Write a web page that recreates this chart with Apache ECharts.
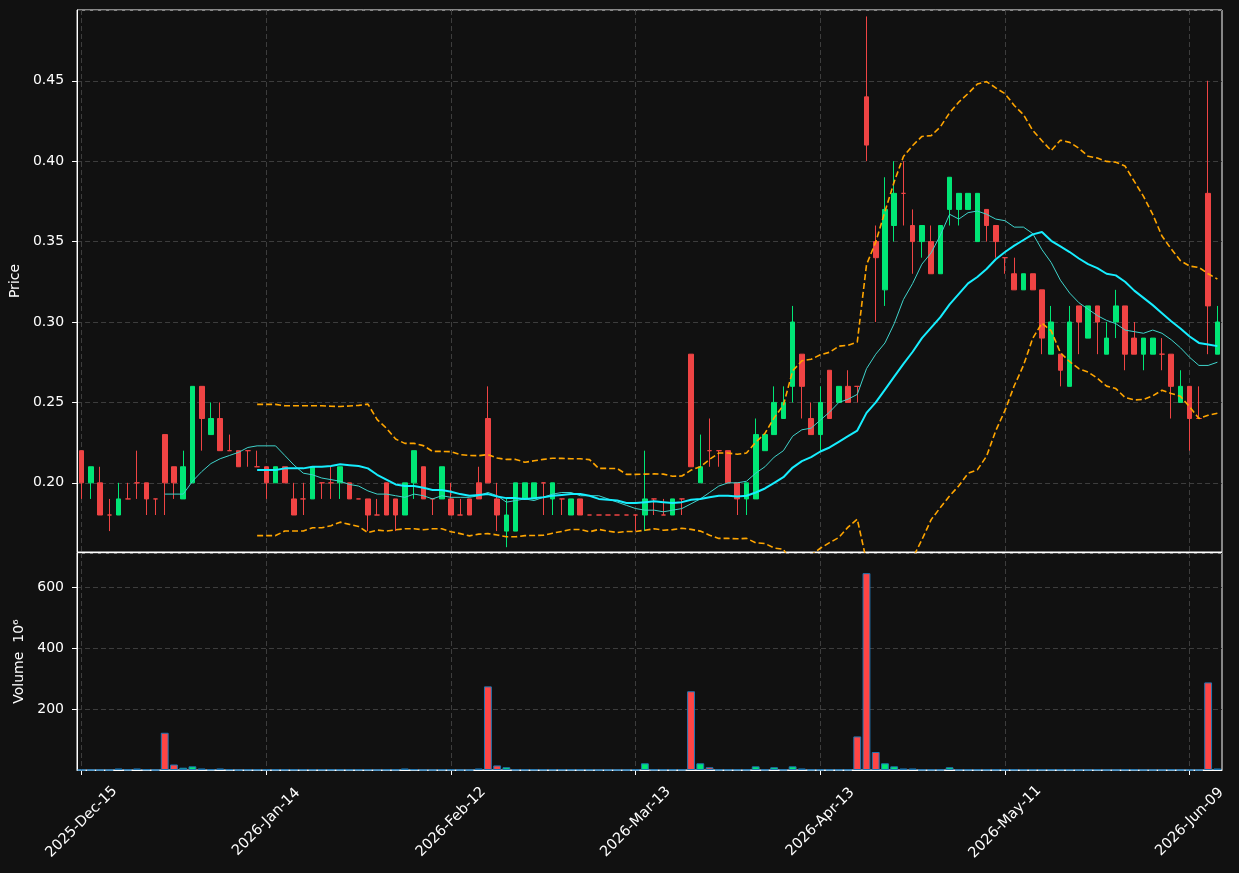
<!DOCTYPE html>
<html>
<head>
<meta charset="utf-8">
<title>Price / Volume</title>
<script src="https://cdn.jsdelivr.net/npm/echarts@6/dist/echarts.min.js"></script>
<style>
  html, body { margin: 0; padding: 0; background: #111111; }
  #chart { width: 1239px; height: 873px; }
</style>
</head>
<body>
<div id="chart"></div>
<script>
// trading calendar (US sessions)
const startDate = '2025-12-15'
const dayCount = 124
const holidays = ['2025-12-25', '2026-01-01', '2026-01-19', '2026-02-16', '2026-04-03', '2026-05-25']
const labelEvery = 20

const opens = [
  0.22, 0.20, 0.20, 0.18, 0.18, 0.19, 0.20, 0.20, 0.19, 0.23,
  0.21, 0.19, 0.20, 0.26, 0.23, 0.24, 0.22, 0.22, 0.22, 0.21,
  0.21, 0.20, 0.21, 0.19, 0.19, 0.19, 0.20, 0.20, 0.20, 0.20,
  0.19, 0.19, 0.18, 0.20, 0.19, 0.18, 0.20, 0.21, 0.19, 0.19,
  0.19, 0.18, 0.19, 0.20, 0.24, 0.19, 0.17, 0.17, 0.19, 0.19,
  0.20, 0.19, 0.19, 0.18, 0.19, 0.18, 0.18, 0.18, 0.18, 0.18,
  0.18, 0.18, 0.19, 0.18, 0.18, 0.19, 0.28, 0.20, 0.22, 0.22,
  0.22, 0.20, 0.19, 0.19, 0.22, 0.23, 0.24, 0.26, 0.28, 0.24,
  0.23, 0.27, 0.25, 0.26, 0.26, 0.44, 0.35, 0.32, 0.36, 0.38,
  0.36, 0.35, 0.35, 0.33, 0.37, 0.37, 0.37, 0.35, 0.37, 0.36,
  0.34, 0.33, 0.32, 0.33, 0.32, 0.28, 0.28, 0.26, 0.31, 0.29,
  0.31, 0.28, 0.30, 0.31, 0.29, 0.28, 0.28, 0.28, 0.28, 0.25,
  0.26, 0.24, 0.38, 0.28
]
const highs = [
  0.22, 0.21, 0.21, 0.19, 0.20, 0.20, 0.22, 0.20, 0.19, 0.23,
  0.21, 0.22, 0.26, 0.26, 0.25, 0.25, 0.23, 0.22, 0.22, 0.22,
  0.21, 0.21, 0.21, 0.20, 0.20, 0.21, 0.20, 0.21, 0.21, 0.20,
  0.19, 0.19, 0.19, 0.20, 0.19, 0.20, 0.22, 0.21, 0.19, 0.21,
  0.20, 0.19, 0.19, 0.21, 0.26, 0.20, 0.19, 0.20, 0.20, 0.20,
  0.20, 0.20, 0.19, 0.19, 0.19, 0.18, 0.18, 0.18, 0.18, 0.18,
  0.18, 0.22, 0.19, 0.19, 0.19, 0.19, 0.28, 0.23, 0.24, 0.22,
  0.22, 0.20, 0.20, 0.24, 0.23, 0.26, 0.26, 0.31, 0.28, 0.25,
  0.26, 0.27, 0.26, 0.27, 0.26, 0.49, 0.36, 0.39, 0.40, 0.40,
  0.37, 0.36, 0.36, 0.36, 0.39, 0.38, 0.38, 0.38, 0.37, 0.36,
  0.34, 0.34, 0.33, 0.33, 0.32, 0.31, 0.28, 0.31, 0.31, 0.31,
  0.31, 0.30, 0.32, 0.31, 0.30, 0.29, 0.29, 0.29, 0.28, 0.27,
  0.26, 0.26, 0.45, 0.31
]
const lows = [
  0.19, 0.19, 0.18, 0.17, 0.18, 0.19, 0.19, 0.18, 0.18, 0.18,
  0.19, 0.19, 0.20, 0.22, 0.23, 0.22, 0.22, 0.21, 0.21, 0.21,
  0.19, 0.20, 0.20, 0.18, 0.18, 0.19, 0.19, 0.19, 0.19, 0.19,
  0.19, 0.17, 0.18, 0.18, 0.17, 0.18, 0.19, 0.19, 0.18, 0.19,
  0.18, 0.18, 0.18, 0.19, 0.20, 0.17, 0.16, 0.17, 0.19, 0.19,
  0.18, 0.18, 0.18, 0.18, 0.18, 0.18, 0.18, 0.18, 0.18, 0.18,
  0.17, 0.17, 0.18, 0.18, 0.18, 0.18, 0.21, 0.20, 0.21, 0.21,
  0.20, 0.18, 0.18, 0.19, 0.22, 0.23, 0.24, 0.25, 0.24, 0.23,
  0.22, 0.24, 0.25, 0.25, 0.25, 0.40, 0.30, 0.31, 0.35, 0.36,
  0.33, 0.34, 0.33, 0.33, 0.36, 0.36, 0.37, 0.35, 0.35, 0.34,
  0.33, 0.32, 0.32, 0.32, 0.28, 0.28, 0.26, 0.26, 0.28, 0.29,
  0.28, 0.28, 0.29, 0.27, 0.28, 0.27, 0.28, 0.27, 0.24, 0.25,
  0.22, 0.24, 0.28, 0.28
]
const closes = [
  0.20, 0.21, 0.18, 0.18, 0.19, 0.19, 0.20, 0.19, 0.19, 0.20,
  0.20, 0.21, 0.26, 0.24, 0.24, 0.22, 0.22, 0.21, 0.22, 0.21,
  0.20, 0.21, 0.20, 0.18, 0.19, 0.21, 0.20, 0.20, 0.21, 0.19,
  0.19, 0.18, 0.18, 0.18, 0.18, 0.20, 0.22, 0.19, 0.19, 0.21,
  0.18, 0.18, 0.18, 0.19, 0.20, 0.18, 0.18, 0.20, 0.20, 0.20,
  0.20, 0.20, 0.19, 0.19, 0.18, 0.18, 0.18, 0.18, 0.18, 0.18,
  0.18, 0.19, 0.19, 0.18, 0.19, 0.19, 0.21, 0.21, 0.22, 0.22,
  0.20, 0.19, 0.20, 0.23, 0.23, 0.25, 0.25, 0.30, 0.26, 0.23,
  0.25, 0.24, 0.26, 0.25, 0.26, 0.41, 0.34, 0.37, 0.38, 0.38,
  0.35, 0.36, 0.33, 0.36, 0.39, 0.38, 0.38, 0.38, 0.36, 0.35,
  0.34, 0.32, 0.33, 0.32, 0.29, 0.30, 0.27, 0.30, 0.30, 0.31,
  0.30, 0.29, 0.31, 0.28, 0.28, 0.29, 0.29, 0.28, 0.26, 0.26,
  0.24, 0.24, 0.31, 0.30
]
// volume in millions
const volumes = [
  0, 0, 0, 0, 5, 1, 5, 2, 0, 122,
  18, 7.5, 12, 5, 2, 5, 2, 0, 1, 1,
  1, 1, 1, 1, 1, 1, 1, 1, 1, 1,
  1, 1, 0, 1, 1, 5, 2, 0, 0, 1,
  1, 0, 0, 5, 274, 15, 9, 1, 1, 1,
  1, 1, 1, 1, 1, 1, 0, 0, 0, 0,
  1, 22, 1, 1, 1, 1, 258, 22, 9, 1,
  1, 1, 1, 12, 1, 9, 1, 12, 5, 1,
  1, 1, 1, 1, 110, 645, 59, 22, 12, 5,
  5, 1, 1, 1, 9, 1, 1, 1, 1, 1,
  1, 1, 1, 1, 1, 1, 1, 1, 0, 0,
  1, 0, 0, 1, 1, 0, 0, 0, 1, 0,
  0, 0, 287, 5
]

const UP = '#00e676'
const DOWN = '#ef4444'
const VOL_DOWN = '#ff4545'
const GRID_LINE = '#3d3d3d'
const FONT = 'DejaVu Sans'

const MONTHS = ['Jan', 'Feb', 'Mar', 'Apr', 'May', 'Jun', 'Jul', 'Aug', 'Sep', 'Oct', 'Nov', 'Dec']

const buildDates = () => {
  const out = []
  const d = new Date(startDate + 'T00:00:00Z')
  while (out.length < dayCount) {
    const iso = d.toISOString().slice(0, 10)
    const wd = d.getUTCDay()
    if (wd !== 0 && wd !== 6 && !holidays.includes(iso)) {
      out.push(d.getUTCFullYear() + '-' + MONTHS[d.getUTCMonth()] + '-' + iso.slice(8, 10))
    }
    d.setUTCDate(d.getUTCDate() + 1)
  }
  return out
}

const rolling = (src, n, fn) => src.map((_, i) => {
  if (i < n - 1) return '-'
  return fn(src.slice(i - n + 1, i + 1))
})
const mean = arr => arr.reduce((a, b) => a + b, 0) / arr.length
const std = arr => {
  const m = mean(arr)
  return Math.sqrt(arr.reduce((a, b) => a + (b - m) * (b - m), 0) / arr.length)
}

const dates = buildDates()
const ma10 = rolling(closes, 10, mean)
const ma20 = rolling(closes, 20, mean)
const bbUpper = rolling(closes, 20, w => mean(w) + 2 * std(w))
const bbLower = rolling(closes, 20, w => mean(w) - 2 * std(w))

const isUp = i => closes[i] > opens[i]

const candleData = opens.map((o, i) => {
  const item = { value: [o, closes[i], lows[i], highs[i]] }
  if (!isUp(i)) item.itemStyle = { color: DOWN, color0: DOWN, borderColor: DOWN, borderColor0: DOWN }
  return item
})
const volumeData = volumes.map((v, i) => ({
  value: v,
  itemStyle: { color: isUp(i) ? UP : VOL_DOWN }
}))

const onTick = idx => idx % labelEvery === 0
const dashed = { color: GRID_LINE, type: [5, 3], width: 1 }

const xBase = (gridIndex, withLabels) => ({
  type: 'category',
  gridIndex,
  data: dates,
  boundaryGap: true,
  axisLine: { show: true, lineStyle: { color: '#ffffff' } },
  axisTick: { show: withLabels, interval: onTick, alignWithLabel: true, length: 5, lineStyle: { color: '#ffffff' } },
  axisLabel: {
    show: withLabels, interval: onTick, rotate: 45, color: '#ffffff',
    fontSize: 14.5, fontFamily: FONT, margin: 52,
    align: 'center', verticalAlign: 'middle'
  },
  splitLine: { show: true, interval: onTick, alignWithLabel: true, lineStyle: dashed }
})

const chart = echarts.init(document.getElementById('chart'))

chart.setOption({
  animation: false,
  backgroundColor: '#111111',
  textStyle: { fontFamily: FONT },
  grid: [
    { left: 77, right: 17, top: 10, height: 542, show: true, borderColor: '#ffffff', borderWidth: 1 },
    { left: 77, right: 17, top: 553, height: 217, show: true, borderColor: '#ffffff', borderWidth: 1 }
  ],
  xAxis: [xBase(0, false), xBase(1, true)],
  yAxis: [
    {
      type: 'value', gridIndex: 0, min: 0.157, max: 0.494, splitNumber: 5,
      name: 'Price', nameLocation: 'middle', nameGap: 49, nameRotate: 90,
      nameTextStyle: { color: '#ffffff', fontSize: 14, fontFamily: FONT },
      axisLine: { show: true, lineStyle: { color: '#ffffff' } },
      axisTick: { show: true, length: 5, lineStyle: { color: '#ffffff' } },
      axisLabel: {
        color: '#ffffff', fontSize: 14, fontFamily: FONT, margin: 13,
        showMinLabel: false, showMaxLabel: false,
        formatter: v => v.toFixed(2)
      },
      splitLine: { show: true, lineStyle: dashed }
    },
    {
      type: 'value', gridIndex: 1, min: 0, max: 711, interval: 200,
      name: 'Volume  10⁶', nameLocation: 'middle', nameGap: 48, nameRotate: 90,
      nameTextStyle: { color: '#ffffff', fontSize: 14, fontFamily: FONT },
      axisLine: { show: true, lineStyle: { color: '#ffffff' } },
      axisTick: { show: true, length: 5, lineStyle: { color: '#ffffff' } },
      axisLabel: {
        color: '#ffffff', fontSize: 14, fontFamily: FONT, margin: 13,
        showMinLabel: false, showMaxLabel: false
      },
      splitLine: { show: true, lineStyle: dashed }
    }
  ],
  series: [
    {
      type: 'candlestick',
      xAxisIndex: 0, yAxisIndex: 0,
      barWidth: '55%',
      data: candleData,
      itemStyle: { color: UP, color0: DOWN, borderColor: UP, borderColor0: DOWN, borderWidth: 1 }
    },
    {
      type: 'line', xAxisIndex: 0, yAxisIndex: 0, data: ma10,
      showSymbol: false, lineStyle: { color: '#3fd3cb', width: 1 }
    },
    {
      type: 'line', xAxisIndex: 0, yAxisIndex: 0, data: ma20,
      showSymbol: false, lineStyle: { color: '#16eeff', width: 2 }
    },
    {
      type: 'line', xAxisIndex: 0, yAxisIndex: 0, data: bbUpper,
      showSymbol: false, lineStyle: { color: '#ffa500', width: 1.6, type: [6, 3] }
    },
    {
      type: 'line', xAxisIndex: 0, yAxisIndex: 0, data: bbLower,
      showSymbol: false, lineStyle: { color: '#ffa500', width: 1.6, type: [6, 3] }
    },
    {
      type: 'bar', xAxisIndex: 1, yAxisIndex: 1,
      barWidth: '85%',
      data: volumeData,
      itemStyle: { borderColor: '#1f77b4', borderWidth: 1 }
    }
  ]
})
</script>
</body>
</html>
